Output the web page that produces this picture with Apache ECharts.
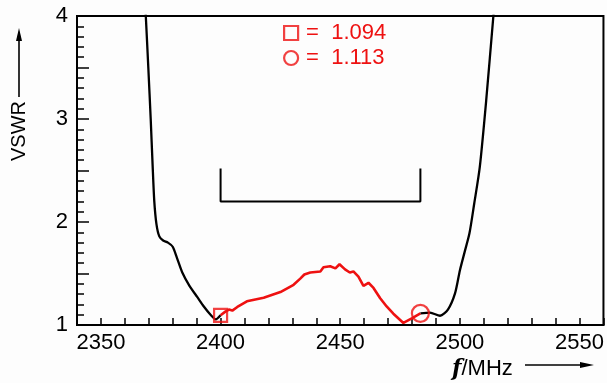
<!DOCTYPE html>
<html>
<head>
<meta charset="utf-8">
<script src="https://cdn.jsdelivr.net/npm/echarts@6/dist/echarts.min.js"></script>
<style>
  html, body { margin: 0; padding: 0; background: #fdfdfd; }
  #chart { width: 607px; height: 383px; }
</style>
</head>
<body>
<div id="chart"></div>
<script>
// measured VSWR, black = outside band, red = inside the 2400-2483.5 MHz band
const blackLeftF = [2368.4, 2368.75, 2369.8, 2370.8, 2371.6, 2372.3, 2373.2, 2374.4, 2376.0, 2378.0, 2380.0, 2381.8, 2384.0, 2387.0, 2390.3, 2393, 2395.8, 2398, 2400];
const blackLeftV = [4.15, 4.0, 3.5, 3.0, 2.55, 2.2, 1.98, 1.86, 1.82, 1.80, 1.76, 1.65, 1.51, 1.38, 1.27, 1.18, 1.10, 1.055, 1.094];

const redF = [2400, 2402, 2403.5, 2404.9, 2407, 2411, 2418, 2425, 2430.5, 2433.3, 2435, 2437.5, 2441.7, 2443, 2445.8, 2448, 2449.7, 2452, 2454, 2455.5, 2457.6, 2459.7, 2461.8, 2463.9, 2466.7, 2469.4, 2472.2, 2476.4, 2479.9, 2483.5];
const redV = [1.094, 1.13, 1.15, 1.14, 1.175, 1.23, 1.265, 1.32, 1.39, 1.45, 1.49, 1.51, 1.52, 1.56, 1.57, 1.55, 1.59, 1.54, 1.51, 1.52, 1.47, 1.38, 1.41, 1.36, 1.26, 1.18, 1.11, 1.02, 1.065, 1.113];

const blackRightF = [2483.5, 2487.5, 2491.7, 2495, 2498, 2500, 2502, 2504, 2506, 2508.3, 2511, 2514, 2515];
const blackRightV = [1.113, 1.12, 1.09, 1.15, 1.31, 1.53, 1.71, 1.89, 2.18, 2.53, 3.18, 4.0, 4.25];

// band bracket 2400 .. 2483.5 MHz
const bandF = [2400, 2400, 2483.5, 2483.5];
const bandV = [2.52, 2.2, 2.2, 2.52];

const markSquare = [2400, 1.094];
const markCircle = [2483.5, 1.113];

const xTicks = [2350, 2400, 2450, 2500, 2550];
const yTicks = [1, 2, 3, 4];

const RED = '#ee1111';
const FONT = 'Liberation Sans';

const pairs = (xs, ys) => xs.map((x, i) => [x, ys[i]]);

const chart = echarts.init(document.getElementById('chart'), null, { renderer: 'canvas' });

const option = {
  backgroundColor: '#fdfdfd',
  animation: false,
  grid: {
    left: 77, right: 2, top: 16, bottom: 58,
    show: true, borderColor: '#000', borderWidth: 2, backgroundColor: 'transparent'
  },
  legend: {
    orient: 'vertical',
    left: 278, top: 17,
    itemGap: 3,
    itemWidth: 14, itemHeight: 14,
    textStyle: { color: RED, fontSize: 22, fontFamily: FONT, padding: [0, 0, 0, 3] },
    data: [
      { name: '=  1.094', icon: 'rect', itemStyle: { color: 'transparent', borderColor: RED, borderWidth: 2.2 } },
      { name: '=  1.113', icon: 'circle', itemStyle: { color: 'transparent', borderColor: RED, borderWidth: 2.2 } }
    ]
  },
  xAxis: {
    type: 'value',
    min: 2340, max: 2560, interval: 10,
    axisLine: { lineStyle: { color: '#000', width: 2 } },
    axisTick: { inside: true, length: 7, lineStyle: { color: '#000', width: 1.5 } },
    splitLine: { show: false },
    axisLabel: {
      color: '#000', fontSize: 22, fontFamily: FONT, margin: 7,
      formatter: v => (xTicks.indexOf(Math.round(v)) >= 0 && Math.abs(v - Math.round(v)) < 1e-6) ? String(Math.round(v)) : ''
    }
  },
  yAxis: [
    {
      type: 'value',
      min: 1, max: 4, interval: 0.1,
      axisLine: { lineStyle: { color: '#000', width: 2 } },
      axisTick: { inside: true, length: 7, lineStyle: { color: '#000', width: 1.5 } },
      splitLine: { show: false },
      axisLabel: {
        color: '#000', fontSize: 22, fontFamily: FONT, margin: 9,
        formatter: v => (Math.abs(v - Math.round(v)) < 1e-6 && yTicks.indexOf(Math.round(v)) >= 0) ? String(Math.round(v)) : ''
      }
    },
    {
      // longer ticks every 0.5
      type: 'value', position: 'left', offset: 0,
      min: 1, max: 4, interval: 0.5,
      axisLine: { show: false },
      axisTick: { inside: true, length: 12, lineStyle: { color: '#000', width: 1.5 } },
      splitLine: { show: false },
      axisLabel: { show: false }
    }
  ],
  series: [
    {
      name: 'low', type: 'line', data: pairs(blackLeftF, blackLeftV),
      showSymbol: false, smooth: 0.25, clip: true,
      lineStyle: { color: '#000', width: 2.3 }
    },
    {
      name: 'high', type: 'line', data: pairs(blackRightF, blackRightV),
      showSymbol: false, smooth: 0.25, clip: true,
      lineStyle: { color: '#000', width: 2.3 }
    },
    {
      name: 'band', type: 'line', data: pairs(redF, redV),
      showSymbol: false, smooth: false,
      lineStyle: { color: RED, width: 2.6 }, z: 3
    },
    {
      name: 'bracket', type: 'line', data: pairs(bandF, bandV),
      showSymbol: false,
      lineStyle: { color: '#000', width: 2 }
    },
    {
      name: '=  1.094', type: 'scatter', data: [markSquare],
      symbol: 'rect', symbolSize: 13, z: 4,
      itemStyle: { color: 'transparent', borderColor: RED, borderWidth: 2.2 }
    },
    {
      name: '=  1.113', type: 'scatter', data: [markCircle],
      symbol: 'circle', symbolSize: 17, z: 4,
      itemStyle: { color: 'transparent', borderColor: RED, borderWidth: 2.2 }
    }
  ],
  graphic: [
    {
      type: 'text', x: 19, y: 131, rotation: Math.PI / 2,
      style: { text: 'VSWR', fill: '#000', fontSize: 20, fontFamily: FONT, align: 'center', verticalAlign: 'middle' }
    },
    { type: 'line', shape: { x1: 19, y1: 97, x2: 19, y2: 38 }, style: { stroke: '#000', lineWidth: 1.6 } },
    { type: 'polygon', shape: { points: [[19, 28], [16, 41], [22, 41]] }, style: { fill: '#000' } },
    {
      type: 'text', x: 452, y: 369,
      style: {
        text: '{f|f}{u|/MHz}',
        verticalAlign: 'middle',
        rich: {
          f: { fontFamily: 'DejaVu Serif', fontStyle: 'italic', fontWeight: 'bold', fontSize: 22, fill: '#000' },
          u: { fontFamily: FONT, fontSize: 22, fill: '#000' }
        }
      }
    },
    { type: 'line', shape: { x1: 525, y1: 365, x2: 582, y2: 365 }, style: { stroke: '#000', lineWidth: 1.6 } },
    { type: 'polygon', shape: { points: [[594, 365], [580, 362], [580, 368]] }, style: { fill: '#000' } }
  ]
};

chart.setOption(option);
</script>
</body>
</html>
